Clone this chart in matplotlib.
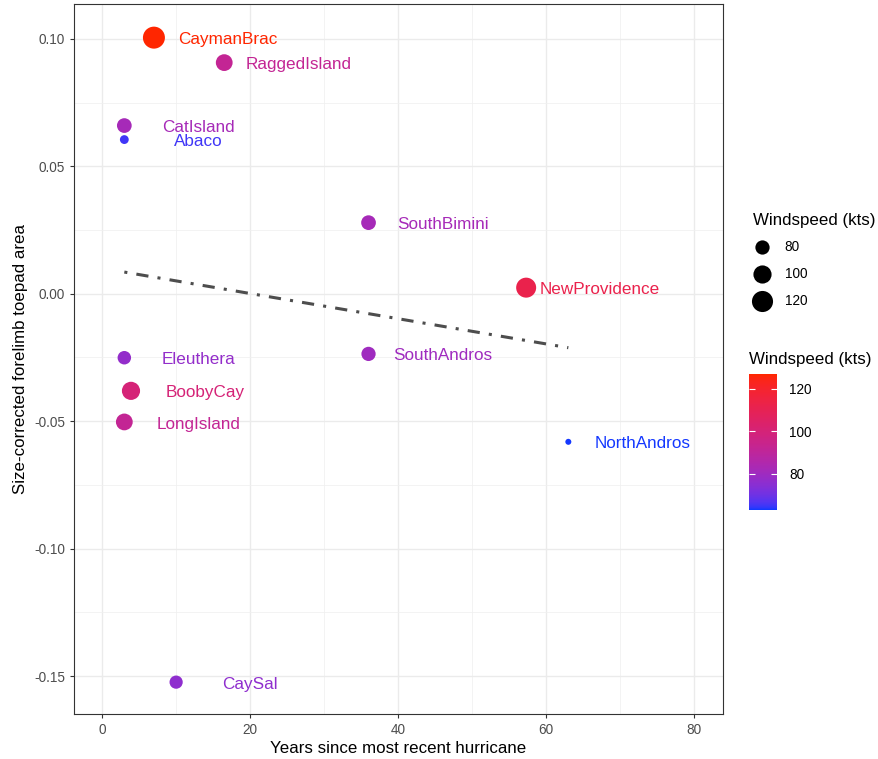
import numpy as np
import matplotlib
matplotlib.use('Agg')
import matplotlib.pyplot as plt
from matplotlib.colors import LinearSegmentedColormap, Normalize, to_rgb
from matplotlib.lines import Line2D
from matplotlib.transforms import offset_copy

plt.rcParams['font.family'] = ['Liberation Sans', 'DejaVu Sans']
plt.rcParams['axes.unicode_minus'] = False

# data
islands = ['CaymanBrac', 'RaggedIsland', 'CatIsland', 'Abaco', 'SouthBimini', 'NewProvidence',
           'SouthAndros', 'Eleuthera', 'BoobyCay', 'LongIsland', 'NorthAndros', 'CaySal']
years = [7, 16.5, 3, 3, 36, 57.3, 36, 3, 3.9, 3, 63, 10]
toepad = [0.1005, 0.0907, 0.0660, 0.0605, 0.0279, 0.0024,
          -0.0236, -0.0251, -0.0381, -0.0503, -0.0581, -0.1524]
wind = [127, 92, 82, 65, 82, 112, 80, 77, 100, 92, 63, 76]
wind_breaks = [80, 100, 120]
x_ticks = [0, 20, 40, 60, 80]
y_ticks = [-0.15, -0.10, -0.05, 0.00, 0.05, 0.10]
label_nudge = 10


# ggplot-like gradient: interpolate low -> high in CIELAB
def srgb_to_lab(c):
    c = np.asarray(c, float)
    lin = np.where(c <= 0.04045, c / 12.92, ((c + 0.055) / 1.055) ** 2.4)
    M = np.array([[0.4124, 0.3576, 0.1805], [0.2126, 0.7152, 0.0722], [0.0193, 0.1192, 0.9505]])
    xyz = M @ lin / np.array([0.95047, 1.0, 1.08883])
    f = np.where(xyz > 0.008856, np.cbrt(xyz), 7.787 * xyz + 16 / 116)
    return np.array([116 * f[1] - 16, 500 * (f[0] - f[1]), 200 * (f[1] - f[2])])


def lab_to_srgb(lab):
    L, a, b = lab
    fy = (L + 16) / 116
    fx = fy + a / 500
    fz = fy - b / 200
    f = np.array([fx, fy, fz])
    xyz = np.where(f ** 3 > 0.008856, f ** 3, (f - 16 / 116) / 7.787) * np.array([0.95047, 1.0, 1.08883])
    Minv = np.array([[3.2406, -1.5372, -0.4986], [-0.9689, 1.8758, 0.0415], [0.0557, -0.2040, 1.0570]])
    lin = Minv @ xyz
    c = np.where(lin <= 0.0031308, 12.92 * lin, 1.055 * np.clip(lin, 0, None) ** (1 / 2.4) - 0.055)
    return tuple(np.clip(c, 0, 1))


lo, hi = srgb_to_lab(to_rgb('#1438FF')), srgb_to_lab(to_rgb('#FF2600'))
cols = [lab_to_srgb(lo + (hi - lo) * t) for t in np.linspace(0, 1, 64)]
cmap = LinearSegmentedColormap.from_list('wind', cols)
wmin, wmax = min(wind), max(wind)
norm = Normalize(wmin, wmax)


def diam_pt(w):
    # ggplot scale_size: area mapped to range 1..6
    size = 1 + 5 * np.sqrt((np.asarray(w, float) - wmin) / (wmax - wmin))
    return (3.2 * size + 2.8) * 0.72


fig = plt.figure(figsize=(8.79, 7.59), dpi=100)
ax = fig.add_axes([74 / 879, 1 - 714 / 759, 649 / 879, 710 / 759])

ax.set_xlim(-3.8, 83.9)
ax.set_ylim(-0.1649, 0.1137)
ax.set_xticks(x_ticks)
ax.set_yticks(y_ticks)
ax.set_yticklabels(['%.2f' % v for v in y_ticks])
ax.set_xticks([10, 30, 50, 70], minor=True)
ax.set_yticks([-0.125, -0.075, -0.025, 0.025, 0.075], minor=True)
ax.grid(True, which='major', color='#EBEBEB', lw=1.0)
ax.grid(True, which='minor', color='#F0F0F0', lw=0.55)
ax.tick_params(which='minor', length=0)
ax.tick_params(which='major', length=3, width=0.8, color='#333333', labelcolor='#4D4D4D', labelsize=9.8)
ax.set_axisbelow(True)
for sp in ax.spines.values():
    sp.set_color('#333333')
    sp.set_linewidth(0.8)

# regression line
yr = np.array(years)
slope, icpt = np.polyfit(yr, toepad, 1)
xs = np.array([yr.min(), yr.max()])
ax.plot(xs, icpt + slope * xs, color='#4D4D4D', lw=2.2, linestyle=(0, (1, 3, 4, 3)),
        dash_capstyle='butt', zorder=2)

ax.scatter(years, toepad, s=diam_pt(wind) ** 2, c=wind, cmap=cmap, norm=norm,
           edgecolors='none', zorder=3)
txt_tr = offset_copy(ax.transData, fig=fig, x=0, y=-1.5, units='points')
for name, x, y, w in zip(islands, years, toepad, wind):
    ax.text(x + label_nudge, y, name, color=cmap(norm(w)), fontsize=12.3,
            ha='center', va='center', zorder=4, transform=txt_tr)

ax.set_xlabel('Years since most recent hurricane', fontsize=12.2, labelpad=3)
ax.set_ylabel('Size-corrected forelimb toepad area', fontsize=12.2, labelpad=4)

# size legend
handles = [Line2D([], [], ls='none', marker='o', color='black', markeredgewidth=0,
                  markersize=diam_pt(b)) for b in wind_breaks]
leg = fig.legend(handles, [str(b) for b in wind_breaks], title='Windspeed (kts)',
                 loc='upper left', bbox_to_anchor=(743 / 879, 1 - 203 / 759),
                 frameon=False, fontsize=9.8, title_fontsize=12.2, alignment='left',
                 labelspacing=0.95, handletextpad=0.95, handlelength=1.4, borderpad=0.2)

# colour bar
cax = fig.add_axes([749 / 879, 1 - 510 / 759, 28 / 879, 136 / 759])
cb = fig.colorbar(plt.cm.ScalarMappable(norm=norm, cmap=cmap), cax=cax)
cb.outline.set_visible(False)
cb.set_ticks(wind_breaks)
cax.tick_params(direction='in', color='white', length=4, width=0.8, left=True, right=True,
                labelsize=9.8, labelcolor='#000000', pad=9)
cax.text(0, 1.05, 'Windspeed (kts)', transform=cax.transAxes, fontsize=12.2,
         ha='left', va='bottom')

fig.savefig('out.png', dpi=100, facecolor='white')
